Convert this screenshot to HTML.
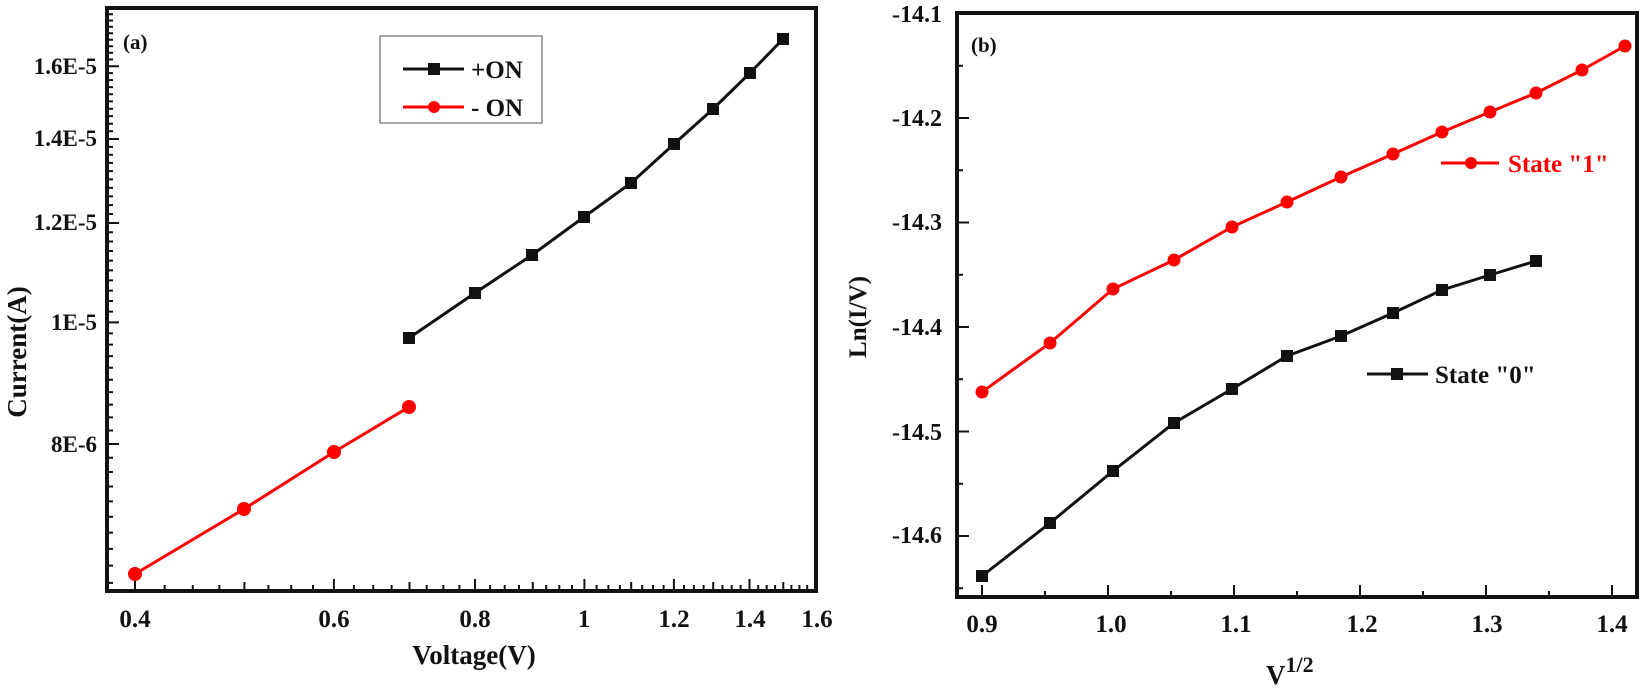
<!DOCTYPE html>
<html><head><meta charset="utf-8"><style>
html,body{margin:0;padding:0;background:#fff;}
svg{display:block;}
text{font-family:"Liberation Serif",serif;font-weight:bold;fill:#111;}
</style></head><body>
<svg width="1645" height="691" viewBox="0 0 1645 691" xmlns="http://www.w3.org/2000/svg">
<!-- Panel (a) ticks -->
<path stroke="#111" stroke-width="2" fill="none" d="
M135,591v-12 M164.7,591v-6 M192.8,591v-6 M219.3,591v-6 M244.4,591v-9 M268.4,591v-6 M291.2,591v-6 M313,591v-6 M333.9,591v-12 M353.9,591v-6 M373.2,591v-6 M391.6,591v-6 M409.5,591v-9 M426.7,591v-6 M443.3,591v-6 M459.4,591v-6 M475,591v-12 M490.1,591v-6 M504.7,591v-6 M519,591v-6 M532.8,591v-9 M546.2,591v-6 M559.3,591v-6 M572,591v-6 M584.4,591v-12 M596.6,591v-6 M608.4,591v-6 M619.9,591v-6 M631.2,591v-9 M642.2,591v-6 M653,591v-6 M663.6,591v-6 M673.9,591v-12 M684,591v-6 M693.9,591v-6 M703.6,591v-6 M713.2,591v-9 M722.5,591v-6 M731.7,591v-6 M740.6,591v-6 M749.5,591v-12 M758.2,591v-6 M766.7,591v-6 M775.1,591v-6 M783.3,591v-9 M791.4,591v-6 M799.4,591v-6 M807.2,591v-6
M107,582.9h6 M107,565.6h6 M107,548.9h6 M107,532.6h6 M107,516.8h6 M107,501.4h6 M107,486.5h6 M107,472h6 M107,457.8h6 M107,444h12 M107,430.5h6 M107,417.4h6 M107,404.6h6 M107,392.1h6 M107,379.8h6 M107,367.8h6 M107,356.1h6 M107,344.6h6 M107,333.4h6 M107,322.4h12 M107,311.6h6 M107,301h6 M107,290.6h6 M107,280.4h6 M107,270.4h6 M107,260.6h6 M107,251h6 M107,241.5h6 M107,232.2h6 M107,223h12 M107,214h6 M107,205.1h6 M107,196.4h6 M107,187.9h6 M107,179.4h6 M107,171.1h6 M107,162.9h6 M107,154.8h6 M107,146.9h6 M107,139h12 M107,131.3h6 M107,123.7h6 M107,116.1h6 M107,108.7h6 M107,101.4h6 M107,94.2h6 M107,87.1h6 M107,80.1h6 M107,73.1h6 M107,66.2h12 M107,59.5h6 M107,52.8h6 M107,46.2h6 M107,39.7h6 M107,33.2h6 M107,26.8h6 M107,20.5h6 M107,14.3h6"/>
<rect x="107" y="8" width="709" height="583" fill="none" stroke="#111" stroke-width="4"/>
<g font-size="25" text-anchor="middle">
<text x="135" y="627">0.4</text><text x="334" y="627">0.6</text><text x="475" y="627">0.8</text>
<text x="584" y="627">1</text><text x="674" y="627">1.2</text><text x="750" y="627">1.4</text><text x="817" y="627">1.6</text>
</g>
<g font-size="23" text-anchor="end">
<text x="97" y="74">1.6E-5</text><text x="97" y="146">1.4E-5</text><text x="97" y="230">1.2E-5</text>
<text x="97" y="330">1E-5</text><text x="97" y="452">8E-6</text>
</g>
<text x="474" y="664" font-size="27" text-anchor="middle">Voltage(V)</text>
<text transform="translate(26,352) rotate(-90)" font-size="27" text-anchor="middle">Current(A)</text>
<text x="123" y="49" font-size="21">(a)</text>
<polyline fill="none" stroke="#111" stroke-width="3" points="409,338 475,293 532,255 584,217 631,183 674,144 713,109 750,73 783,39"/>
<g fill="#111">
<rect x="403" y="332" width="12" height="12"/><rect x="469" y="287" width="12" height="12"/><rect x="526" y="249" width="12" height="12"/><rect x="578" y="211" width="12" height="12"/><rect x="625" y="177" width="12" height="12"/><rect x="668" y="138" width="12" height="12"/><rect x="707" y="103" width="12" height="12"/><rect x="744" y="67" width="12" height="12"/><rect x="777" y="33" width="12" height="12"/>
</g>
<polyline fill="none" stroke="#f00" stroke-width="3" points="135,574 244,509 334,452 409,407"/>
<g fill="#f00"><circle cx="135" cy="574" r="7"/><circle cx="244" cy="509" r="7"/><circle cx="334" cy="452" r="7"/><circle cx="409" cy="407" r="7"/></g>
<rect x="380" y="36" width="162" height="87" fill="#fff" stroke="#888" stroke-width="1.5"/>
<line x1="403" y1="69" x2="464" y2="69" stroke="#111" stroke-width="3"/><rect x="428" y="63" width="12" height="12" fill="#111"/>
<text x="471" y="78" font-size="25" font-weight="normal">+ON</text>
<line x1="403" y1="107" x2="464" y2="107" stroke="#f00" stroke-width="3"/><circle cx="434" cy="107" r="6" fill="#f00"/>
<text x="471" y="116" font-size="25" font-weight="normal">- ON</text>

<!-- Panel (b) -->
<path stroke="#111" stroke-width="2" fill="none" d="
M982,597v-12 M1045,597v-6 M1108,597v-12 M1171,597v-6 M1234,597v-12 M1297,597v-6 M1360,597v-12 M1423,597v-6 M1486,597v-12 M1549,597v-6 M1612,597v-12
M957,65.75h6 M957,118h12 M957,170.25h6 M957,222.5h12 M957,274.75h6 M957,327h12 M957,379.25h6 M957,431.5h12 M957,483.75h6 M957,536h12 M957,588.25h6"/>
<rect x="957" y="13" width="680" height="584" fill="none" stroke="#111" stroke-width="4"/>
<g font-size="25" text-anchor="middle">
<text x="982" y="632">0.9</text><text x="1111" y="632">1.0</text><text x="1236" y="632">1.1</text>
<text x="1362" y="632">1.2</text><text x="1487" y="632">1.3</text><text x="1612" y="632">1.4</text>
</g>
<g font-size="24" text-anchor="end">
<text x="942" y="22">-14.1</text><text x="942" y="126">-14.2</text><text x="942" y="230">-14.3</text>
<text x="942" y="335">-14.4</text><text x="942" y="440">-14.5</text><text x="942" y="543">-14.6</text>
</g>
<text x="1266" y="684" font-size="27">V<tspan dy="-12" font-size="22">1/2</tspan></text>
<text transform="translate(866,317) rotate(-90)" font-size="25" text-anchor="middle">Ln(I/V)</text>
<text x="971" y="52" font-size="21">(b)</text>
<polyline fill="none" stroke="#f00" stroke-width="3" points="982,392 1050,343 1113,289 1174,260 1232,227 1287,202 1341,177 1393,154 1442,132 1490,112 1536,93 1582,70 1625,46"/>
<g fill="#f00"><circle cx="982" cy="392" r="6.5"/><circle cx="1050" cy="343" r="6.5"/><circle cx="1113" cy="289" r="6.5"/><circle cx="1174" cy="260" r="6.5"/><circle cx="1232" cy="227" r="6.5"/><circle cx="1287" cy="202" r="6.5"/><circle cx="1341" cy="177" r="6.5"/><circle cx="1393" cy="154" r="6.5"/><circle cx="1442" cy="132" r="6.5"/><circle cx="1490" cy="112" r="6.5"/><circle cx="1536" cy="93" r="6.5"/><circle cx="1582" cy="70" r="6.5"/><circle cx="1625" cy="46" r="6.5"/></g>
<polyline fill="none" stroke="#111" stroke-width="3" points="982,576 1050,523 1113,471 1174,423 1232,389 1287,356 1341,336 1393,313 1442,290 1490,275 1536,261"/>
<g fill="#111"><rect x="976" y="570" width="12" height="12"/><rect x="1044" y="517" width="12" height="12"/><rect x="1107" y="465" width="12" height="12"/><rect x="1168" y="417" width="12" height="12"/><rect x="1226" y="383" width="12" height="12"/><rect x="1281" y="350" width="12" height="12"/><rect x="1335" y="330" width="12" height="12"/><rect x="1387" y="307" width="12" height="12"/><rect x="1436" y="284" width="12" height="12"/><rect x="1484" y="269" width="12" height="12"/><rect x="1530" y="255" width="12" height="12"/></g>
<line x1="1441" y1="163" x2="1499" y2="163" stroke="#f00" stroke-width="3"/><circle cx="1471" cy="163" r="6" fill="#f00"/>
<text x="1508" y="172" font-size="25" style="fill:#f00">State "1"</text>
<line x1="1367" y1="374" x2="1428" y2="374" stroke="#111" stroke-width="3"/><rect x="1391" y="368" width="12" height="12" fill="#111"/>
<text x="1435" y="383" font-size="25" font-weight="normal">State "0"</text>
</svg>
</body></html>
